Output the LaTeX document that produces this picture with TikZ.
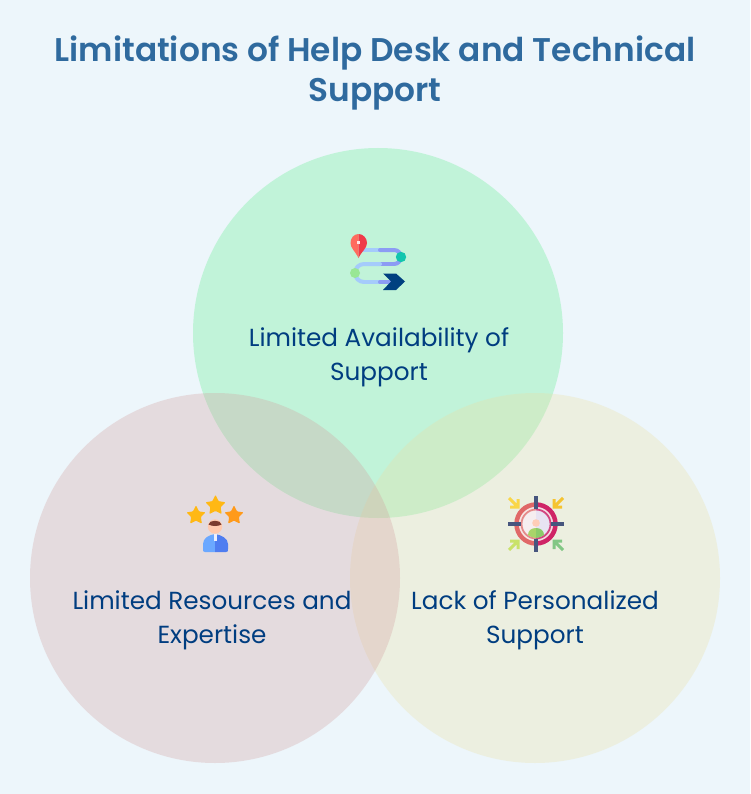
\documentclass[tikz,border=0pt]{standalone}
\usepackage{fontspec}
\usetikzlibrary{shapes.geometric}
\setmainfont{Poppins}
\newfontfamily\headfont{Poppins SemiBold}
\definecolor{pagebg}{HTML}{EDF6FB}
\definecolor{titleblue}{HTML}{2F6A9E}
\definecolor{labelblue}{HTML}{003D80}
\definecolor{greenfill}{HTML}{5DEF8B}
\definecolor{rosefill}{HTML}{D29F9E}
\definecolor{olivefill}{HTML}{EADFA4}
\definecolor{pathA}{HTML}{A5CBFB}
\definecolor{pathB}{HTML}{8C9CF4}
\definecolor{starA}{HTML}{FFB814}
\definecolor{starB}{HTML}{FF9A1A}
\definecolor{crossblue}{HTML}{46557E}
\tikzset{
  x=1pt,y=-1pt,
  hx/.code={\definecolor{hxtmp}{HTML}{#1}\pgfkeysalso{color=hxtmp}},
  venn/.style={circle,minimum size=370pt,inner sep=0pt,fill=#1,fill opacity=0.3},
  label text/.style={align=center,text=labelblue,font=\fontsize{24.7}{34}\selectfont},
  title text/.style={align=center,text=titleblue,font=\headfont\fontsize{32.8}{40}\selectfont},
  starmark/.style={star,star points=5,star point ratio=1.95,inner sep=0pt,minimum size=#1,rounded corners=0.8pt},
}
\begin{document}
\begin{tikzpicture}
\useasboundingbox (0,0) rectangle (750,794);
\fill[pagebg] (0,0) rectangle (750,794);
\node[title text] (title) at (375,73) {Limitations of Help Desk and Technical\\Support};
% overlapping circles
\node[venn=greenfill] (top) at (378,333) {};
\node[venn=olivefill] (right) at (535,578) {};
\node[venn=rosefill] (left) at (215,578) {};
\node[label text] (ltop) at (379,357.5) {Limited Availability of\\Support};
\node[label text] (lleft) at (212,620.5) {Limited Resources and\\Expertise};
\node[label text] (lright) at (535,620.5) {Lack of Personalized\\Support};
% route icon
\begin{scope}[line width=4pt,line cap=round]
\draw[pathA] (362,250) -- (380,250);
\draw[pathB] (380,250) -- (394,250) arc (-90:90:7);
\draw[pathB] (394,264) -- (380,264);
\draw[pathA] (380,264) -- (364,264) arc (-90:-270:9);
\draw[pathA] (364,282) -- (380,282);
\draw[pathB] (380,282) -- (390,282);
\end{scope}
\fill[hx=FF6B5E] (358.5,258) .. controls (355,251) and (350.5,248) .. (350.5,243) .. controls (350.5,238) and (354,234) .. (358.5,234) -- cycle;
\fill[hx=F03A4A] (358.5,258) .. controls (362,251) and (367,248) .. (367,243) .. controls (367,238) and (363,234) .. (358.5,234) -- cycle;
\fill[white!90!red] (357,241) rectangle (360,244);
\fill[hx=12C5AE] (401,257) circle (5.2);
\fill[hx=99E795] (355,273) circle (5);
\fill[hx=004080] (383,273.5) -- (396,273.5) -- (405,281.5) -- (396,290) -- (383,290) -- (391,281.5) -- cycle;
% person with stars icon
\node[starmark=20pt,fill=starA] (s1) at (196,515.5) {};
\node[starmark=21pt,fill=starA] (s2) at (215.5,505.5) {};
\node[starmark=20pt,fill=starB] (s3) at (234,515.5) {};
\fill[hx=6BA8FF] (215,552) -- (205,552) .. controls (203,552) and (203,551) .. (203,549) -- (203,544) .. controls (203,538) and (209,535) .. (215,534) -- cycle;
\fill[hx=4F7DF0] (215,552) -- (226,552) .. controls (228,552) and (228,551) .. (228,549) -- (228,544) .. controls (228,538) and (221,535) .. (215,534) -- cycle;
\fill[white!85!pathB] (213.5,534) rectangle (216.5,541);
\fill[hx=FFC9AE] (215,526.5) circle (7.2);
\fill[hx=7A3B2E] (208.5,524.5) .. controls (209,519.5) and (221,519.5) .. (221.5,524.5) .. controls (218,526.5) and (212,526.5) .. (208.5,524.5) -- cycle;
% target icon
\fill[hx=F7E6E4] (536,506) arc (-90:-270:18) -- cycle;
\fill[hx=F4DCE2] (536,506) arc (-90:90:18) -- cycle;
\draw[hx=E06868,line width=4.5pt] (536,504.5) arc (-90:-270:19.5);
\draw[hx=CF2466,line width=4.5pt] (536,504.5) arc (-90:90:19.5);
\fill[hx=F6EEF0] (536,510) arc (-90:-270:14) -- cycle;
\fill[hx=E8E3F2] (536,510) arc (-90:90:14) -- cycle;
\draw[hx=E58A8A,line width=1.8pt] (536,509.5) arc (-90:-270:14.5);
\draw[hx=D2457F,line width=1.8pt] (536,509.5) arc (-90:90:14.5);
\fill[hx=FFCDB8] (536,523) circle (3.8);
\fill[hx=A9D46A] (536,528) .. controls (531,528) and (528,531) .. (528,535) .. controls (531,537) and (534,538) .. (536,538) -- cycle;
\fill[hx=8CCB6A] (536,528) .. controls (541,528) and (544,531) .. (544,535) .. controls (541,537) and (538,538) .. (536,538) -- cycle;
\draw[crossblue,line width=3.2pt] (536,496) -- (536,509) (536,539) -- (536,552) (508,524) -- (521,524) (551,524) -- (564,524);
\draw[hx=F9D648,line width=3pt] (509,498) -- (517,506) (518,499) -- (518,507) -- (510,507);
\draw[hx=F5C330,line width=3pt] (563,498) -- (555,506) (554,499) -- (554,507) -- (562,507);
\draw[hx=C9E26A,line width=3pt] (509,550) -- (517,542) (518,549) -- (518,541) -- (510,541);
\draw[hx=82C785,line width=3pt] (563,550) -- (555,542) (554,549) -- (554,541) -- (562,541);
\end{tikzpicture}
\end{document}
